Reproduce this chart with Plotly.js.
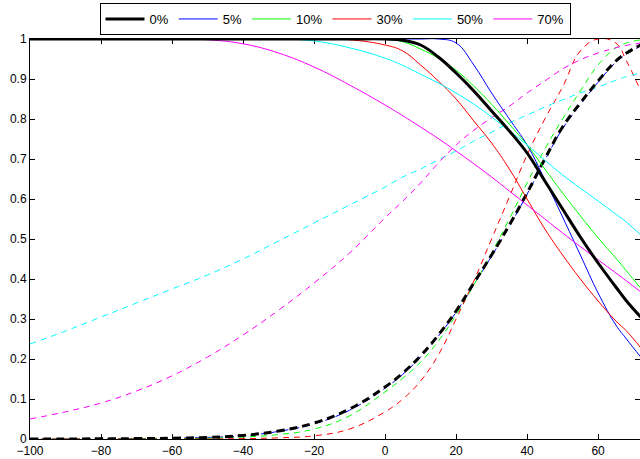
<!DOCTYPE html>
<html><head><meta charset="utf-8">
<script src="https://cdn.plot.ly/plotly-3.0.1.min.js"></script>
<style>html,body{margin:0;padding:0;background:#fff}#chart{width:640px;height:459px}</style>
</head><body><div id="chart"></div>
<script>
// shared x positions
const xGrid = [-100,-90,-80,-70,-60,-50,-40,-30,-20,-10,0,5,10,15,20,25,30,35,40,45,50,55,60,65,68,72];
const seriesNames = ['0%','5%','10%','30%','50%','70%'];

// decreasing (solid) curves
const solid0  = [1,1,1,1,1,1,1,1,1,1,1,0.997,0.985,0.955,0.915,0.87,0.82,0.77,0.715,0.645,0.575,0.505,0.44,0.38,0.345,0.305];
const solid5  = [1,1,1,1,1,1,1,1,1,1,1,1,1,1,0.99,0.935,0.865,0.80,0.735,0.648,0.555,0.46,0.365,0.285,0.25,0.205];
const solid10 = [1,1,1,1,1,1,1,1,1,1,1,0.993,0.975,0.952,0.922,0.882,0.837,0.787,0.735,0.675,0.615,0.558,0.503,0.452,0.42,0.377];
const solid30 = [1,1,1,1,1,1,1,1,1,0.998,0.985,0.97,0.935,0.895,0.85,0.795,0.74,0.675,0.60,0.525,0.46,0.40,0.345,0.295,0.27,0.228];
const solid50 = [1,1,1,1,1,1,1,1,0.995,0.978,0.952,0.934,0.912,0.89,0.865,0.837,0.805,0.771,0.735,0.697,0.66,0.627,0.595,0.562,0.542,0.51];
const solid70 = [1,1,1,1,1,0.998,0.988,0.965,0.93,0.885,0.835,0.808,0.78,0.751,0.72,0.688,0.655,0.62,0.585,0.55,0.515,0.481,0.448,0.415,0.395,0.368];

// increasing (dashed) curves
const dashed0  = [0,0,0.0005,0.001,0.002,0.004,0.009,0.02,0.04,0.075,0.13,0.165,0.208,0.26,0.32,0.39,0.46,0.535,0.615,0.70,0.78,0.84,0.895,0.945,0.965,0.985];
const dashed5  = [0,0,0.0005,0.001,0.002,0.004,0.008,0.019,0.038,0.072,0.127,0.162,0.205,0.257,0.317,0.386,0.457,0.532,0.612,0.697,0.776,0.836,0.892,0.942,0.962,0.983];
const dashed10 = [0,0,0,0.0005,0.001,0.002,0.005,0.011,0.025,0.058,0.118,0.152,0.192,0.245,0.31,0.385,0.465,0.55,0.64,0.725,0.80,0.87,0.935,0.978,0.99,0.998];
const dashed30 = [0,0,0,0,0,0,0.001,0.003,0.008,0.025,0.068,0.10,0.145,0.21,0.30,0.395,0.50,0.605,0.71,0.80,0.88,0.97,1.0,0.99,0.945,0.87];
const dashed50 = [0.2375,0.27,0.305,0.34,0.375,0.41,0.45,0.495,0.54,0.585,0.63,0.655,0.675,0.698,0.72,0.745,0.767,0.79,0.81,0.83,0.848,0.865,0.88,0.897,0.906,0.915];
const dashed70 = [0.05,0.068,0.09,0.12,0.158,0.205,0.26,0.322,0.39,0.465,0.553,0.595,0.64,0.69,0.735,0.772,0.803,0.832,0.865,0.895,0.925,0.948,0.965,0.978,0.984,0.99];

const solids = [solid0, solid5, solid10, solid30, solid50, solid70];
const dasheds = [dashed0, dashed5, dashed10, dashed30, dashed50, dashed70];
const colors = ['#000000','#0000ff','#00ff00','#ff0000','#00ffff','#ff00ff'];
const widths = [3,1,1,1,1,1];
const dashPat = ['8px,5px','6px,5px','6px,5px','6px,5px','6px,5px','6px,5px'];

const traces = [];
const order = [1,2,3,4,5,0]; // draw black last (on top)
order.forEach(i => {
  traces.push({
    x: xGrid, y: dasheds[i], type: 'scatter', mode: 'lines',
    line: {color: colors[i], width: widths[i], dash: dashPat[i], shape: 'spline', smoothing: 1.2},
    showlegend: false, hoverinfo: 'skip'
  });
});
order.forEach(i => {
  traces.push({
    x: xGrid, y: solids[i], type: 'scatter', mode: 'lines', name: seriesNames[i],
    legendrank: i + 1,
    line: {color: colors[i], width: widths[i], shape: 'spline', smoothing: 1.2},
    hoverinfo: 'skip'
  });
});

const axisCommon = {
  showline: true, linecolor: '#000', linewidth: 1, mirror: 'ticks',
  ticks: 'inside', ticklen: 5, tickcolor: '#000', tickwidth: 1,
  showgrid: false, zeroline: false, layer: 'below traces',
  tickfont: {family: 'Liberation Sans, Arial, sans-serif', size: 12, color: '#000'}
};

const layout = {
  width: 640, height: 459,
  margin: {l: 30, r: 0, t: 39, b: 20, pad: 0},
  paper_bgcolor: '#fff', plot_bgcolor: '#fff',
  font: {family: 'Liberation Sans, Arial, sans-serif', size: 13, color: '#000'},
  xaxis: Object.assign({}, axisCommon, {range: [-100, 71.8], tick0: -100, dtick: 20, ticklabelstandoff: 1}),
  yaxis: Object.assign({}, axisCommon, {range: [0, 1], tick0: 0, dtick: 0.1}),
  showlegend: true,
  legend: {
    orientation: 'h', x: 0.5, xanchor: 'center', y: 1.09, yanchor: 'top',
    itemwidth: 39,
    bordercolor: '#000', borderwidth: 1, bgcolor: '#fff',
    font: {family: 'Liberation Sans, Arial, sans-serif', size: 13, color: '#000'}
  }
};

Plotly.newPlot('chart', traces, layout, {displayModeBar: false, staticPlot: true});
</script>
</body></html>
